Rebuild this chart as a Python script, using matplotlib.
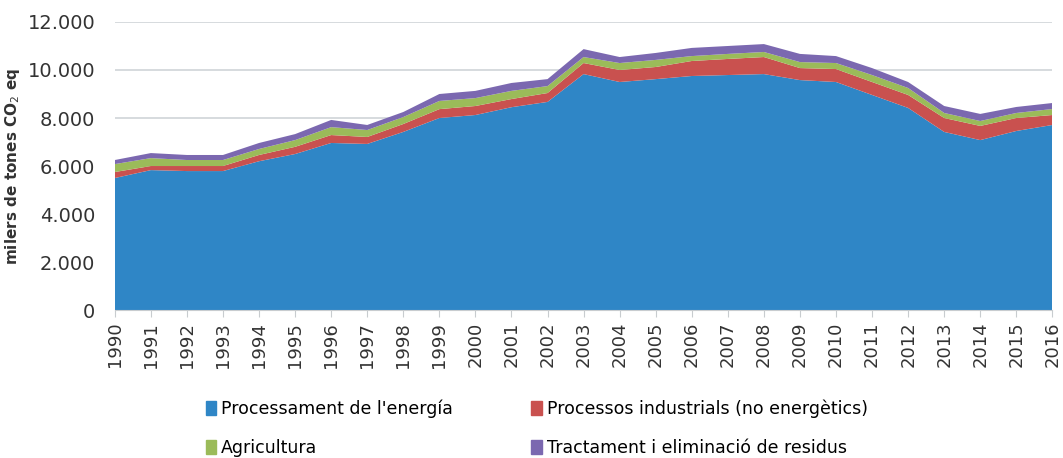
import numpy as np
from matplotlib import pyplot as plt
from matplotlib.patches import Patch
from matplotlib.ticker import FuncFormatter

years = list(range(1990, 2017))

energia = [5500, 5830, 5790, 5790, 6200, 6500, 6960, 6920, 7420, 8000, 8125, 8450, 8670,
           9830, 9500, 9620, 9750, 9790, 9830, 9580, 9500, 8960, 8420, 7420, 7080, 7460, 7710]
industrials = [250, 170, 210, 210, 260, 300, 330, 290, 330, 370, 375, 340, 370,
               460, 500, 505, 625, 670, 710, 500, 540, 540, 540, 580, 590, 540, 415]
agricultura = [330, 330, 250, 250, 250, 280, 330, 290, 290, 340, 330, 340, 290,
               250, 290, 295, 205, 210, 210, 250, 250, 290, 290, 210, 205, 210, 250]
residus = [170, 210, 210, 210, 250, 250, 300, 210, 210, 290, 300, 330, 290,
           330, 250, 290, 340, 330, 330, 340, 290, 290, 250, 290, 295, 250, 250]

labels = ["Processament de l'energía", "Processos industrials (no energètics)",
          "Agricultura", "Tractament i eliminació de residus"]
colors = ['#2F86C6', '#C9514F', '#9BBB59', '#7B68B0']

fig = plt.figure(figsize=(10.63, 4.58), dpi=100)
ax = fig.add_axes([0.108, 0.323, 0.882, 0.629])

ax.stackplot(years, energia, industrials, agricultura, residus, colors=colors, linewidth=0)

ax.set_xlim(1990, 2016)
ax.set_ylim(0, 12000)
ax.set_yticks(range(0, 12001, 2000))
ax.yaxis.set_major_formatter(FuncFormatter(lambda v, p: f'{int(v):,}'.replace(',', '.')))
ax.set_xticks(years)
ax.set_xticklabels([str(y) for y in years], rotation=90)
ax.grid(axis='y', color='#d0d4d8', linewidth=1.2)
ax.set_axisbelow(True)
for s in ['top', 'right', 'left']:
    ax.spines[s].set_visible(False)
ax.spines['bottom'].set_color('#c8cccf')
ax.tick_params(axis='y', length=0, labelsize=14, colors='#333333', pad=14)
ax.tick_params(axis='x', length=5, color='#c8cccf', labelsize=13, colors='#333333')
ax.set_ylabel('milers de tones CO$_2$ eq', fontsize=11, fontweight='bold', color='#333333', labelpad=4)

handles = [Patch(color=c) for c in colors]
order = [0, 2, 1, 3]
fig.legend([handles[i] for i in order], [labels[i] for i in order], ncol=2,
           loc='center', bbox_to_anchor=(0.505, 0.065), frameon=False,
           handlelength=0.6, handleheight=0.9, handletextpad=0.3, columnspacing=4.5,
           labelspacing=1.2, prop={'size': 12.5})

plt.savefig('out.png', dpi=100)
